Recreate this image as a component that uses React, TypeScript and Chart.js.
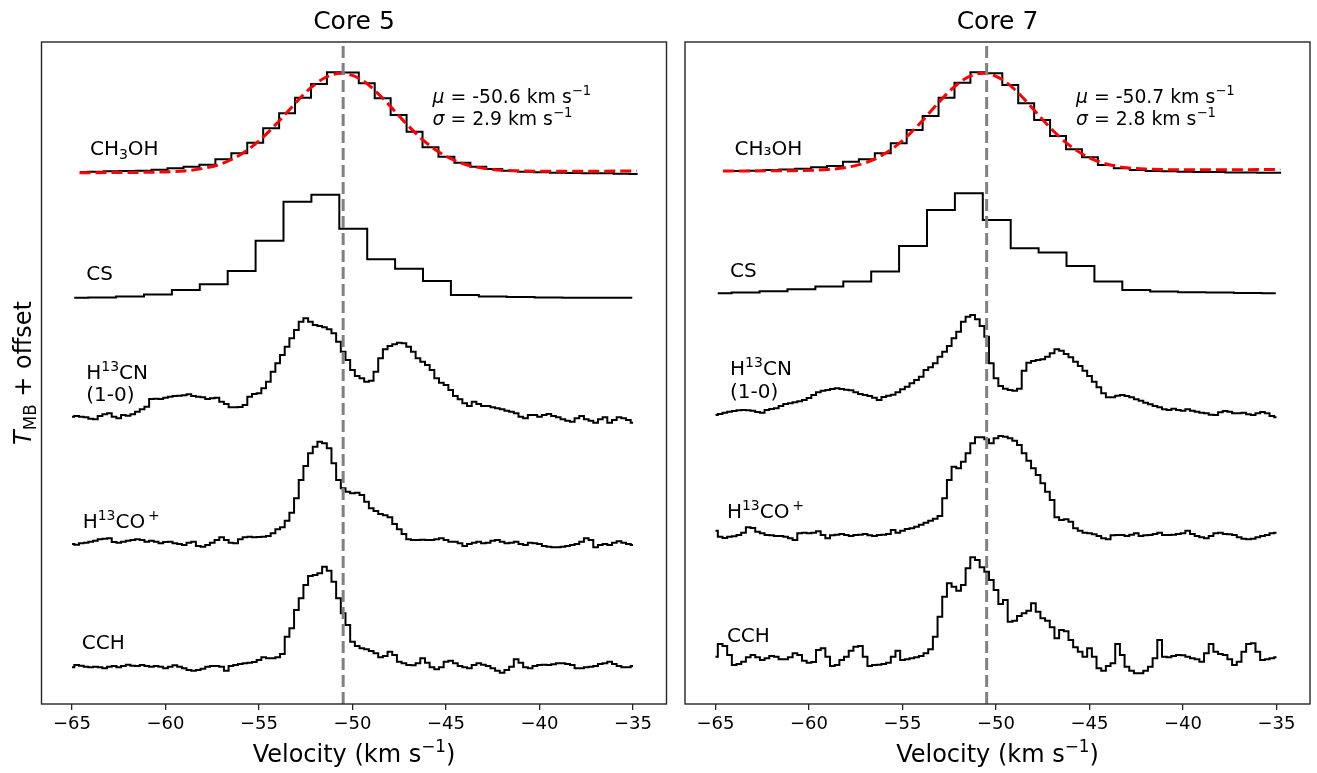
import React, { useEffect, useRef } from "react";
import { Chart, registerables } from "chart.js";
Chart.register(...registerables);

// ---------- axes ----------
const X_MIN = -66.63;
const X_MAX = -33.21;
const Y_MIN = 0;
const Y_MAX = 66.2;
const xTickValues = [-65, -60, -55, -50, -45, -40, -35];
const vSys = -50.5;

// ---------- channel grids (start centre, width, count) ----------
const ch3ohGrid = { start: -64.574, step: 0.852, count: 36 };
const csGrid = { start: -64.88, step: 1.492, count: 21 };
const fineGrid = { start: -65, step: 0.25, count: 121 };

// ---------- offsets (CH3OH, CS, H13CN, H13CO+, CCH) ----------
const offsetsCore5 = [53.0, 40.63, 28.4, 15.9, 3.6];
const offsetsCore7 = [53.13, 41.07, 28.4, 16.4, 4.2];

// ---------- Core 5 ----------
const ch3ohCore5 = [0.2, 0.23, 0.27, 0.3, 0.33, 0.43, 0.57, 0.73, 0.93, 1.47, 2.07, 3.13, 4.57, 6.07, 7.63, 9.0, 10.17, 10.15, 9.07, 7.57, 5.9, 4.23, 2.67, 1.73, 1.13, 0.73, 0.5, 0.33, 0.23, 0.17, 0.13, 0.1, 0.07, 0.07, 0.03, 0.0];
const fitVelCore5 = [-64.6, -63, -61, -59, -58, -57, -56, -55, -54, -53.5, -53, -52.5, -52, -51.5, -51, -50.6, -50, -49.5, -49, -48.5, -48, -47.5, -47, -46, -45, -44, -43, -42, -40, -38, -36, -34.8];
const fitCore5 = [0.13, 0.14, 0.17, 0.31, 0.55, 1.03, 1.92, 3.31, 5.15, 6.17, 7.2, 8.16, 8.98, 9.6, 9.98, 10.07, 9.86, 9.39, 8.69, 7.8, 6.82, 5.79, 4.79, 3.03, 1.77, 0.98, 0.57, 0.38, 0.28, 0.28, 0.29, 0.3];
const csCore5 = [0, 0.03, 0.13, 0.33, 0.77, 1.34, 2.67, 5.7, 9.6, 10.3, 6.9, 3.84, 2.9, 1.67, 0.27, 0.13, 0.07, 0.03, 0, 0, 0];
const h13cnCore5 = [
  0.33, 0.4, 0.33, 0.27, 0.13, 0.07, 0.4, 0.57, 0.67, 0.33,
  0.17, 0.5, 0.43, 0.57, 0.83, 1.07, 1.33, 2.1, 2.13, 2.1,
  2.23, 2.33, 2.4, 2.43, 2.47, 2.57, 2.4, 2.33, 2.27, 2.1,
  2.17, 2.23, 1.83, 1.6, 1.27, 1.27, 1.3, 1.5, 2.33, 2.6,
  2.67, 3.17, 3.83, 4.83, 5.67, 6.5, 7.33, 8.17, 9.0, 9.83,
  10.17, 9.83, 9.5, 9.4, 9.27, 9.07, 8.67, 7.83, 6.83, 6.0,
  5.0, 4.4, 4.17, 3.83, 3.93, 4.83, 6.17, 7.07, 7.4, 7.57,
  7.73, 7.67, 7.33, 6.83, 6.17, 5.83, 5.5, 5.0, 4.17, 3.73,
  3.5, 3.0, 2.4, 2.07, 1.67, 1.4, 1.83, 1.6, 1.4, 1.4,
  1.27, 1.17, 1.07, 0.93, 0.83, 0.67, 0.33, 0.17, 0.5, 0.5,
  0.33, 0.5, 0.6, 0.4, 0.27, 0.07, -0.07, -0.17, 0.17, 0.4,
  0.07, -0.07, -0.27, 0.07, 0.27, -0.27, 0, 0.27, 0.17, 0,
  -0.27,
];
const h13coCore5 = [
  0.1, 0.03, 0.17, 0.23, 0.33, 0.43, 0.57, 0.63, 0.67, 0.3,
  0.23, 0.33, 0.43, 0.5, 0.57, 0.5, 0.33, 0.43, 0.33, 0.17,
  0.3, 0.33, 0.17, 0.1, 0, 0.23, 0.33, -0.1, -0.17, 0,
  0.23, 0.5, 0.77, 0.5, 0.23, 0.17, 0.57, 0.77, 0.83, 0.77,
  0.8, 0.83, 0.9, 1.17, 1.57, 1.77, 2.43, 3.23, 4.67, 6.5,
  7.9, 9.17, 9.83, 10.33, 10.17, 9.67, 8.17, 6.5, 5.67, 5.33,
  5.17, 5.23, 5.0, 4.33, 3.67, 3.4, 3.1, 2.97, 2.77, 2.1,
  1.57, 1.1, 0.57, 0.5, 0.5, 0.53, 0.5, 0.5, 0.57, 0.67,
  0.5, 0.33, 0.33, 0.17, -0.1, 0.1, 0.23, 0.33, 0.17, 0.23,
  0.43, 0.5, 0.33, 0.17, 0.23, 0.33, 0.1, 0, 0.23, 0.17,
  0.1, -0.1, -0.17, -0.23, -0.23, -0.17, -0.1, 0, 0.1, 0.33,
  0.67, 0.5, -0.23, 0, 0.1, 0, 0.23, 0.37, 0.23, 0.1,
  0,
];
const cchCore5 = [
  0.07, 0.3, 0.23, 0.13, 0.07, 0.13, 0.07, -0.03, 0.13, 0.2,
  0.07, 0.2, 0.33, 0.23, 0.2, 0.3, 0.2, 0.13, 0.2, 0.13,
  -0.03, 0.13, 0.27, 0.13, -0.03, -0.2, -0.27, -0.2, -0.07, 0.13,
  0.2, 0.2, 0.13, -0.27, 0.2, 0.3, 0.4, 0.47, 0.53, 0.6,
  0.8, 1.07, 0.97, 0.97, 1.07, 1.4, 3.13, 3.97, 5.8, 6.97,
  8.3, 9.2, 9.3, 9.47, 10.13, 9.73, 8.63, 6.97, 5.47, 4.3,
  2.63, 2.2, 1.97, 1.87, 1.7, 1.47, 1.07, 1.2, 1.63, 1.3,
  0.63, 0.47, 0.3, 0.27, 0.47, 0.97, 0.53, 0.07, -0.13, 0.07,
  0.63, 0.73, 0.47, 0.2, 0.07, -0.03, 0.3, 0.47, 0.33, 0.2,
  -0.03, -0.27, -0.47, -0.2, 0.13, 0.87, 0.53, 0.07, -0.03, 0.2,
  0.3, 0.33, 0.3, 0.37, 0.47, 0.47, 0.4, 0.3, -0.03, -0.03,
  0.07, 0.13, 0.2, 0.4, 0.47, 0.63, 0.4, 0.2, 0.07, 0.07,
  0.2,
];

// ---------- Core 7 ----------
const ch3ohCore7 = [0.17, 0.17, 0.2, 0.27, 0.33, 0.4, 0.54, 0.67, 1.1, 1.34, 1.94, 2.94, 4.27, 5.67, 7.5, 9.0, 10.04, 9.94, 8.77, 6.94, 5.27, 3.67, 2.34, 1.54, 0.77, 0.44, 0.27, 0.17, 0.14, 0.1, 0.07, 0.07, 0.03, 0.03, 0, 0];
const fitVelCore7 = [-64.6, -63, -61, -59, -58, -57, -56, -55, -54, -53.5, -53, -52.5, -52, -51.5, -51, -50.7, -50, -49.5, -49, -48.5, -48, -47.5, -47, -46, -45, -44, -43, -42, -40, -38, -36, -34.8];
const fitCore7 = [0.17, 0.18, 0.2, 0.32, 0.53, 0.98, 1.84, 3.2, 5.07, 6.11, 7.15, 8.12, 8.95, 9.55, 9.88, 9.94, 9.64, 9.09, 8.32, 7.37, 6.34, 5.3, 4.3, 2.63, 1.48, 0.82, 0.49, 0.36, 0.3, 0.3, 0.31, 0.32];
const csCore7 = [0, 0.07, 0.2, 0.4, 0.67, 1.17, 2.17, 4.73, 8.33, 10.0, 7.33, 4.5, 4.07, 2.73, 1.17, 0.33, 0.17, 0.1, 0.07, 0.03, 0];
const h13cnCore7 = [
  0.5, 0.6, 0.73, 0.83, 0.9, 0.97, 1.0, 0.97, 0.93, 0.8,
  0.73, 1.0, 1.1, 1.17, 1.4, 1.6, 1.67, 1.77, 1.87, 2.0,
  2.2, 2.5, 2.77, 2.93, 3.0, 3.1, 3.17, 3.1, 3.03, 2.97,
  2.77, 2.6, 2.5, 2.4, 2.23, 2.0, 2.3, 2.43, 2.53, 2.77,
  3.07, 3.33, 3.67, 4.0, 4.33, 5.0, 5.27, 5.67, 6.33, 6.83,
  7.4, 8.17, 8.83, 9.83, 10.33, 10.5, 10.07, 9.4, 8.33, 5.67,
  4.17, 3.4, 3.13, 3.0, 2.93, 3.13, 4.93, 5.73, 5.9, 6.0,
  6.07, 6.33, 6.67, 7.07, 6.93, 6.6, 6.27, 5.83, 5.4, 4.93,
  4.4, 3.83, 3.27, 2.67, 2.27, 2.27, 2.43, 2.5, 2.4, 2.27,
  2.07, 1.93, 1.73, 1.57, 1.4, 1.27, 1.07, 1.0, 1.13, 1.0,
  0.93, 1.07, 0.93, 0.83, 0.73, 0.67, 0.53, 0.5, 0.77, 0.9,
  0.83, 0.67, 0.67, 0.73, 0.57, 0.5, 0.67, 0.8, 0.67, 0.4,
  0.27,
];
const h13coCore7 = [
  0.93, 0.33, 0.2, 0.33, 0.37, 0.5, 0.73, 1.27, 1.2, 0.83,
  0.67, 0.5, 0.47, 0.4, 0.4, 0.33, 0.17, 0, 0.67, 0.73,
  0.67, 0.73, 0.87, 0.5, 0.17, 0.47, 0.53, 0.6, 0.5, 0.4,
  0.5, 0.53, 0.6, 0.47, 0.4, 0.5, 0.53, 0.6, 1.0, 0.73,
  0.93, 1.1, 1.17, 1.33, 1.53, 1.73, 1.93, 2.13, 2.4, 4.17,
  6.0, 7.33, 7.17, 7.83, 8.67, 9.67, 10.27, 10.27, 10.07, 9.67,
  10.17, 10.4, 10.33, 10.17, 9.93, 9.5, 8.67, 7.93, 7.17, 6.5,
  5.67, 4.83, 4.0, 2.27, 2.0, 2.07, 1.83, 1.17, 0.93, 0.73,
  0.67, 0.57, 0.4, 0.17, 0.07, 0.47, 0.5, 0.5, 0.4, 0.53,
  0.67, 0.4, 0.47, 0.5, 0.6, 0.73, 0.5, 0.5, 0.53, 0.6,
  0.67, 0.93, 0.6, 0.4, 0.27, 0.17, 0.4, 0.67, 0.73, 0.6,
  0.57, 0.5, 0.27, 0.13, 0.07, 0.13, 0.27, 0.4, 0.5, 0.67,
  0.73,
];
const cchCore7 = [
  0.53, 1.8, 1.6, 0.7, -0.3, -0.2, 0.03, 0.47, 0.7, 0.47,
  0.2, 0.37, 0.6, 0.53, 0.27, 0.27, 0.47, 0.87, 0.7, 0.13,
  -0.07, 0, 1.2, 1.37, 0.53, -0.4, -0.3, 0.2, 0.53, 1.13,
  1.53, 1.6, 0.53, -0.4, -0.3, -0.27, -0.2, -0.07, 0.53, 1.13,
  0.2, 0.27, 0.37, 0.47, 0.6, 0.87, 1.27, 2.53, 4.53, 6.53,
  7.87, 7.53, 7.13, 7.7, 9.37, 10.47, 10.2, 9.47, 9.03, 8.2,
  7.2, 5.8, 6.2, 4.03, 4.13, 4.6, 4.87, 5.13, 5.87, 5.03,
  4.37, 4.13, 3.47, 2.37, 3.2, 3.07, 2.2, 1.47, 1.03, 0.53,
  1.37, 0.53, -0.63, -0.87, -0.4, -0.13, 1.8, 0.7, -0.47, -0.87,
  -1.13, -1.13, -0.87, -0.47, 0.37, 2.2, 0.53, 0.47, 0.6, 0.7,
  0.67, 0.53, 0.37, 0.27, 0.03, 0.87, 1.8, 1.03, 0.8, 0.7,
  0.27, -0.3, 0.03, 1.03, 1.8, 1.87, 1.03, 0.2, 0.27, 0.37,
  0.47,
];

// ---------- text ----------
const FONT = '"DejaVu Sans", "Liberation Sans", sans-serif';
type Seg = { t: string; sup?: boolean; sub?: boolean; it?: boolean };

const labelsCore5: { x: number; y: number; segs: Seg[] }[] = [
  { x: -64.04, y: 54.95, segs: [{ t: "CH" }, { t: "3", sub: true }, { t: "OH" }] },
  { x: -64.24, y: 42.45, segs: [{ t: "CS" }] },
  { x: -64.24, y: 32.55, segs: [{ t: "H" }, { t: "13", sup: true }, { t: "CN" }] },
  { x: -64.24, y: 30.3, segs: [{ t: "(1-0)" }] },
  { x: -64.43, y: 17.65, segs: [{ t: "H" }, { t: "13", sup: true }, { t: "CO" }, { t: "\u2009+", sup: true }] },
  { x: -64.48, y: 5.5, segs: [{ t: "CCH" }] },
];
const labelsCore7: { x: number; y: number; segs: Seg[] }[] = [
  { x: -63.98, y: 54.95, segs: [{ t: "CH\u2083OH" }] },
  { x: -64.22, y: 42.75, segs: [{ t: "CS" }] },
  { x: -64.22, y: 32.95, segs: [{ t: "H" }, { t: "13", sup: true }, { t: "CN" }] },
  { x: -64.22, y: 30.6, segs: [{ t: "(1-0)" }] },
  { x: -64.39, y: 18.65, segs: [{ t: "H" }, { t: "13", sup: true }, { t: "CO" }, { t: "\u2009+", sup: true }] },
  { x: -64.39, y: 6.25, segs: [{ t: "CCH" }] },
];
const fitTextCore5 = ["-50.6", "2.9"];
const fitTextCore7 = ["-50.7", "2.8"];

function channels(g: { start: number; step: number; count: number }) {
  return Array.from({ length: g.count }, (_, i) => g.start + i * g.step);
}

function drawRich(ctx: CanvasRenderingContext2D, x: number, y: number, segs: Seg[], size: number, measureOnly = false) {
  let cx = x;
  for (const s of segs) {
    const small = s.sup || s.sub;
    const fs = small ? size * 0.7 : size;
    ctx.font = `${s.it ? "italic " : ""}${fs}px ${FONT}`;
    const dy = s.sup ? -size * 0.4 : s.sub ? size * 0.2 : 0;
    if (!measureOnly) ctx.fillText(s.t, cx, y + dy);
    cx += ctx.measureText(s.t).width;
  }
  return cx - x;
}

type Panel = {
  title: string;
  offsets: number[];
  ch3oh: number[];
  fitVel: number[];
  fit: number[];
  cs: number[];
  h13cn: number[];
  h13co: number[];
  cch: number[];
  labels: { x: number; y: number; segs: Seg[] }[];
  fitText: string[];
  padLeft: number;
  padRight: number;
  yLabel: boolean;
};

function makeChart(canvas: HTMLCanvasElement, p: Panel) {
  const vC = channels(ch3ohGrid);
  const vS = channels(csGrid);
  const vF = channels(fineGrid);
  const spec = (vel: number[], vals: number[], off: number) => vel.map((v, i) => ({ x: v, y: off + vals[i] }));
  const black = (data: any[]) => ({
    data,
    borderColor: "#000000",
    borderWidth: 2,
    pointRadius: 0,
    stepped: "middle" as const,
    fill: false,
    order: 3,
  });
  const datasets: any[] = [
    black(spec(vC, p.ch3oh, p.offsets[0])),
    black(spec(vS, p.cs, p.offsets[1])),
    black(spec(vF, p.h13cn, p.offsets[2])),
    black(spec(vF, p.h13co, p.offsets[3])),
    black(spec(vF, p.cch, p.offsets[4])),
    {
      data: spec(p.fitVel, p.fit, p.offsets[0]),
      borderColor: "#ff0000",
      borderWidth: 3,
      borderDash: [11, 5],
      pointRadius: 0,
      cubicInterpolationMode: "monotone",
      fill: false,
      order: 2,
    },
    {
      data: [
        { x: vSys, y: Y_MIN },
        { x: vSys, y: Y_MAX },
      ],
      borderColor: "#808080",
      borderWidth: 3,
      borderDash: [12, 5],
      pointRadius: 0,
      fill: false,
      order: 1,
    },
  ];

  const textPlugin = {
    id: "panelText",
    afterDatasetsDraw(chart: any) {
      const ctx: CanvasRenderingContext2D = chart.ctx;
      const xs = chart.scales.x;
      const ys = chart.scales.y;
      const a = chart.chartArea;
      ctx.save();
      // frame
      ctx.strokeStyle = "#262626";
      ctx.lineWidth = 1.4;
      ctx.strokeRect(a.left, a.top, a.right - a.left, a.bottom - a.top);
      ctx.fillStyle = "#000";
      ctx.textBaseline = "alphabetic";
      ctx.textAlign = "left";
      // species labels
      for (const l of p.labels) {
        drawRich(ctx, xs.getPixelForValue(l.x), ys.getPixelForValue(l.y), l.segs, 20);
      }
      // fit annotation
      const ax = xs.getPixelForValue(-45.72);
      drawRich(ctx, ax, ys.getPixelForValue(60.15), [{ t: "\u03bc", it: true }, { t: " = " + p.fitText[0] + " km s" }, { t: "\u22121", sup: true }], 18.8);
      drawRich(ctx, ax, ys.getPixelForValue(57.9), [{ t: "\u03c3", it: true }, { t: " = " + p.fitText[1] + " km s" }, { t: "\u22121", sup: true }], 18.8);
      // x-axis label
      const xl: Seg[] = [{ t: "Velocity (km s" }, { t: "\u22121", sup: true }, { t: ")" }];
      const w = drawRich(ctx, 0, 0, xl, 24, true);
      drawRich(ctx, (a.left + a.right) / 2 - w / 2, 762, xl, 24);
      // y-axis label
      if (p.yLabel) {
        const yl: Seg[] = [{ t: "T", it: true }, { t: "MB", sub: true }, { t: " + offset" }];
        const wy = drawRich(ctx, 0, 0, yl, 24, true);
        ctx.translate(31, (a.top + a.bottom) / 2);
        ctx.rotate(-Math.PI / 2);
        drawRich(ctx, -wy / 2, 0, yl, 24);
      }
      ctx.restore();
    },
  };

  return new Chart(canvas, {
    type: "line",
    data: { datasets },
    options: {
      animation: false,
      responsive: false,
      maintainAspectRatio: false,
      events: [],
      layout: { padding: { left: p.padLeft, right: p.padRight, top: 0, bottom: 0 } },
      plugins: {
        legend: { display: false },
        tooltip: { enabled: false },
        title: {
          display: true,
          text: p.title,
          color: "#000",
          font: { family: FONT, size: 25, weight: "normal" },
          padding: { top: 7.5, bottom: 4.5 },
        },
      },
      scales: {
        x: {
          type: "linear",
          min: X_MIN,
          max: X_MAX,
          afterBuildTicks: (axis: any) => {
            axis.ticks = xTickValues.map((v) => ({ value: v }));
          },
          afterFit: (scale: any) => {
            scale.height = 69;
          },
          grid: { display: true, drawOnChartArea: false, drawTicks: true, tickLength: 6, color: "#262626", lineWidth: 1.3 },
          border: { display: false },
          ticks: {
            autoSkip: false,
            maxRotation: 0,
            padding: 4,
            color: "#000",
            font: { family: FONT, size: 18 },
            callback: (v: any) => String(v).replace("-", "\u2212"),
          },
        },
        y: { type: "linear", display: false, min: Y_MIN, max: Y_MAX },
      },
    },
    plugins: [textPlugin],
  } as any);
}

const panels: Panel[] = [
  {
    title: "Core 5",
    offsets: offsetsCore5,
    ch3oh: ch3ohCore5,
    fitVel: fitVelCore5,
    fit: fitCore5,
    cs: csCore5,
    h13cn: h13cnCore5,
    h13co: h13coCore5,
    cch: cchCore5,
    labels: labelsCore5,
    fitText: fitTextCore5,
    padLeft: 41.5,
    padRight: 9.5,
    yLabel: true,
  },
  {
    title: "Core 7",
    offsets: offsetsCore7,
    ch3oh: ch3ohCore7,
    fitVel: fitVelCore7,
    fit: fitCore7,
    cs: csCore7,
    h13cn: h13cnCore7,
    h13co: h13coCore7,
    cch: cchCore7,
    labels: labelsCore7,
    fitText: fitTextCore7,
    padLeft: 9,
    padRight: 7,
    yLabel: false,
  },
];

export default function App() {
  const leftRef = useRef<HTMLCanvasElement | null>(null);
  const rightRef = useRef<HTMLCanvasElement | null>(null);
  useEffect(() => {
    const charts: Chart[] = [];
    if (leftRef.current) charts.push(makeChart(leftRef.current, panels[0]));
    if (rightRef.current) charts.push(makeChart(rightRef.current, panels[1]));
    return () => charts.forEach((c) => c.destroy());
  }, []);
  return (
    <div style={{ position: "absolute", left: 0, top: 0, width: 1317, height: 773, background: "#fff" }}>
      <canvas ref={leftRef} width={676} height={773} style={{ position: "absolute", left: 0, top: 0, width: 676, height: 773 }} />
      <canvas ref={rightRef} width={641} height={773} style={{ position: "absolute", left: 676, top: 0, width: 641, height: 773 }} />
    </div>
  );
}
